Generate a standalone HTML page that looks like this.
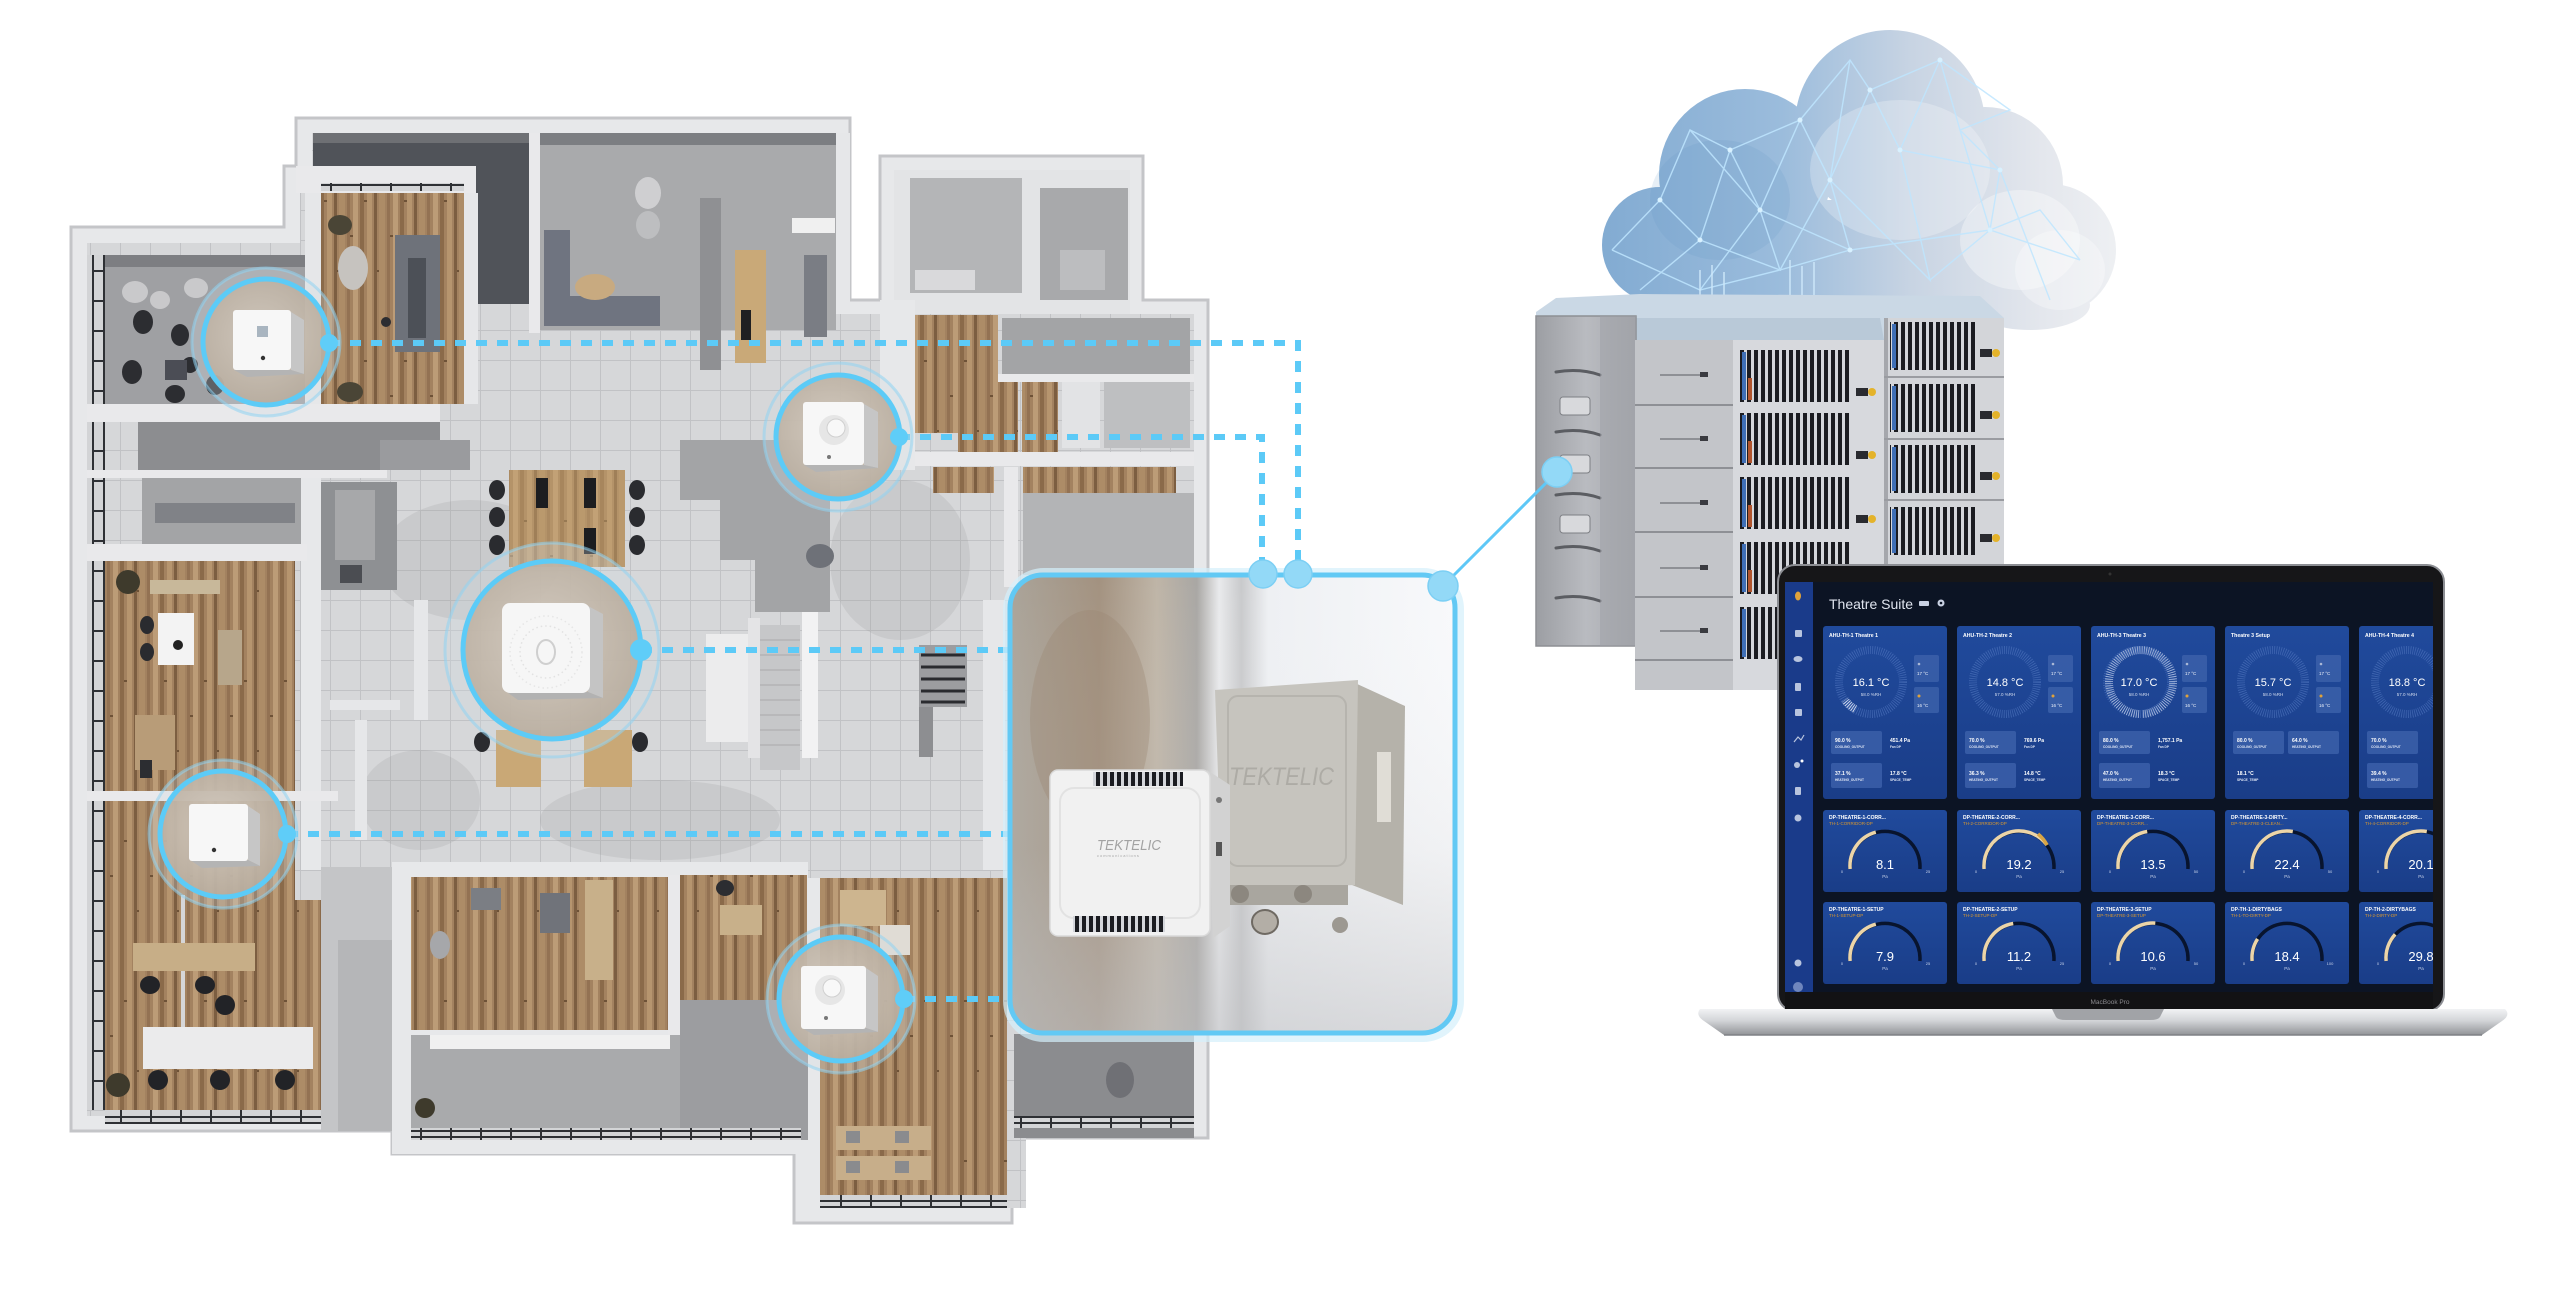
<!DOCTYPE html>
<html><head><meta charset="utf-8">
<style>
html,body{margin:0;padding:0;background:#fff;}
svg{display:block;}
text{font-family:"Liberation Sans",Arial,sans-serif;}
</style></head>
<body>
<svg width="2560" height="1302" viewBox="0 0 2560 1302" xmlns="http://www.w3.org/2000/svg">
<defs>
 <pattern id="wood" width="40" height="160" patternUnits="userSpaceOnUse">
  <rect width="40" height="160" fill="#a38260"/>
  <rect x="0" width="4" height="160" fill="#8a6a4a"/>
  <rect x="7" width="5" height="160" fill="#b6956f"/>
  <rect x="14" width="3" height="160" fill="#7c5e41"/>
  <rect x="19" width="6" height="160" fill="#ad8c67"/>
  <rect x="27" width="3" height="160" fill="#937253"/>
  <rect x="33" width="5" height="160" fill="#bc9c77"/>
  <rect x="4" y="40" width="3" height="2" fill="#6e5237"/>
  <rect x="17" y="110" width="2" height="2" fill="#6e5237"/>
  <rect x="30" y="75" width="3" height="2" fill="#6e5237"/>
 </pattern>
 <pattern id="tile" width="30" height="30" patternUnits="userSpaceOnUse">
  <rect width="30" height="30" fill="#d6d7d9"/>
  <path d="M0 0.5H30M0.5 0V30" stroke="#c1c2c5" stroke-width="1"/>
 </pattern>
 <pattern id="win" width="18" height="30" patternUnits="userSpaceOnUse">
  <rect width="18" height="30" fill="#d3d4d6"/>
  <rect x="2" width="2" height="30" fill="#2e3034"/>
  <rect x="13" width="2" height="30" fill="#2e3034"/>
  <rect x="2" y="0" width="13" height="2" fill="#2e3034"/>
 </pattern>
 <pattern id="winh" width="30" height="14" patternUnits="userSpaceOnUse">
  <rect width="30" height="14" fill="#d3d4d6"/>
  <rect y="2" width="30" height="2" fill="#2e3034"/>
  <rect y="10" width="30" height="2" fill="#2e3034"/>
  <rect x="0" width="2" height="14" fill="#2e3034"/>
 </pattern>
 <pattern id="rack" width="7" height="60" patternUnits="userSpaceOnUse">
  <rect width="7" height="60" fill="#1b1c21"/>
  <rect x="1" width="3" height="60" fill="#d4d6db"/>
 </pattern>
 <radialGradient id="sfill" cx="0.45" cy="0.45" r="0.6">
  <stop offset="0" stop-color="#d2c8bc"/>
  <stop offset="1" stop-color="#b7ab9c"/>
 </radialGradient>
 <linearGradient id="gwbg" x1="1010" y1="0" x2="1455" y2="0" gradientUnits="userSpaceOnUse">
  <stop offset="0" stop-color="#aaa49a"/>
  <stop offset="0.2" stop-color="#a39280"/>
  <stop offset="0.33" stop-color="#bfb5a7"/>
  <stop offset="0.42" stop-color="#a9a7a4"/>
  <stop offset="0.47" stop-color="#e9eaec"/>
  <stop offset="0.52" stop-color="#c9cacc"/>
  <stop offset="0.58" stop-color="#eef0f3"/>
  <stop offset="1" stop-color="#f8f9fb"/>
 </linearGradient>
 <linearGradient id="gwv" x1="0" y1="575" x2="0" y2="1033" gradientUnits="userSpaceOnUse">
  <stop offset="0" stop-color="#ffffff" stop-opacity="0"/>
  <stop offset="0.6" stop-color="#c8c8ca" stop-opacity="0.15"/>
  <stop offset="1" stop-color="#bfc0c3" stop-opacity="0.55"/>
 </linearGradient>
 <linearGradient id="cloudg" x1="1600" y1="0" x2="2120" y2="0" gradientUnits="userSpaceOnUse">
  <stop offset="0" stop-color="#82abd2"/>
  <stop offset="0.35" stop-color="#9bbcdc"/>
  <stop offset="0.6" stop-color="#c8d4e3"/>
  <stop offset="0.85" stop-color="#e4e7ed"/>
  <stop offset="1" stop-color="#eef0f3"/>
 </linearGradient>
 <linearGradient id="towerg" x1="1536" y1="0" x2="1636" y2="0" gradientUnits="userSpaceOnUse">
  <stop offset="0" stop-color="#9c9ea3"/>
  <stop offset="0.5" stop-color="#b9bbc0"/>
  <stop offset="1" stop-color="#a6a8ad"/>
 </linearGradient>
 <linearGradient id="baseg" x1="0" y1="1008" x2="0" y2="1036" gradientUnits="userSpaceOnUse">
  <stop offset="0" stop-color="#f4f5f7"/>
  <stop offset="0.45" stop-color="#d3d5d8"/>
  <stop offset="1" stop-color="#8d8f93"/>
 </linearGradient>
 <linearGradient id="cardg" x1="0" y1="0" x2="0" y2="1">
  <stop offset="0" stop-color="#204a9c"/>
  <stop offset="1" stop-color="#1a3d88"/>
 </linearGradient>
 <clipPath id="scr"><rect x="1785" y="582" width="648" height="410"/></clipPath>
</defs>

<rect width="2560" height="1302" fill="#ffffff"/>

<!-- ================= FLOOR PLAN ================= -->
<g id="floor">
 <polygon points="71,227 284,227 284,166 296,166 296,118 850,118 850,300 880,300 880,156 1143,156 1143,300 1208,300 1208,1138 1012,1138 1012,1223 794,1223 794,1154 392,1154 392,1131 71,1131" fill="#e7e8ea" stroke="#c4c5c8" stroke-width="3"/>
 <polygon points="87,243 300,243 300,182 312,182 312,133 836,133 836,314 894,314 894,170 1130,170 1130,314 1194,314 1194,1124 1026,1124 1026,1208 808,1208 808,1140 406,1140 406,1116 87,1116" fill="url(#tile)"/>
 <g fill="#8e8f92" opacity="0.18">
  <ellipse cx="470" cy="560" rx="90" ry="60"/>
  <ellipse cx="660" cy="820" rx="120" ry="40"/>
  <ellipse cx="900" cy="560" rx="70" ry="80"/>
  <ellipse cx="420" cy="800" rx="60" ry="50"/>
 </g>

 <!-- left windows -->
 <rect x="87" y="255" width="18" height="855" fill="url(#win)"/>

 <!-- top-left office -->
 <rect x="105" y="255" width="200" height="149" fill="#9fa0a3"/>
 <rect x="105" y="255" width="200" height="12" fill="#7d7e82"/>
 <g fill="#c9c9cb"><ellipse cx="135" cy="292" rx="13" ry="11"/><ellipse cx="196" cy="288" rx="12" ry="10"/><ellipse cx="160" cy="300" rx="10" ry="9"/></g>
 <g fill="#2c2d31">
  <ellipse cx="143" cy="322" rx="10" ry="12"/><ellipse cx="180" cy="335" rx="9" ry="11"/>
  <ellipse cx="132" cy="372" rx="10" ry="12"/><ellipse cx="175" cy="394" rx="10" ry="9"/>
  <ellipse cx="215" cy="385" rx="9" ry="10"/><ellipse cx="190" cy="365" rx="8" ry="8"/>
 </g>
 <rect x="165" y="360" width="22" height="20" fill="#4b4d55"/>

 <!-- dark top area and upper wood room -->
 <rect x="313" y="133" width="216" height="171" fill="#505359"/>
 <rect x="313" y="133" width="216" height="10" fill="#6e7074"/>
 <rect x="296" y="166" width="180" height="27" fill="#e9e9eb"/>
 <rect x="321" y="183" width="143" height="8" fill="url(#winh)"/>
 <rect x="321" y="193" width="143" height="211" fill="url(#wood)"/>
 <rect x="305" y="193" width="16" height="211" fill="#e6e7e9"/>
 <rect x="464" y="193" width="14" height="211" fill="#e6e7e9"/>
 <rect x="395" y="235" width="45" height="117" fill="#6e727a"/>
 <rect x="408" y="258" width="18" height="80" fill="#4c5057"/>
 <ellipse cx="353" cy="268" rx="15" ry="22" fill="#c6c3bf"/>
 <ellipse cx="340" cy="225" rx="12" ry="10" fill="#4a4536"/>
 <ellipse cx="350" cy="392" rx="13" ry="10" fill="#4a4536"/>
 <circle cx="386" cy="322" r="5" fill="#2c2d31"/>

 <!-- top middle room -->
 <rect x="529" y="133" width="11" height="200" fill="#e9e9eb"/>
 <rect x="540" y="133" width="296" height="197" fill="#a9aaac"/>
 <rect x="540" y="133" width="296" height="12" fill="#7c7e82"/>
 <rect x="544" y="230" width="26" height="96" fill="#6f7480"/>
 <rect x="544" y="296" width="116" height="30" fill="#6f7480"/>
 <ellipse cx="595" cy="287" rx="20" ry="13" fill="#c8aa80"/>
 <ellipse cx="648" cy="193" rx="13" ry="16" fill="#cfcfd1"/>
 <ellipse cx="648" cy="225" rx="12" ry="14" fill="#bdbec0"/>
 <rect x="700" y="198" width="21" height="172" fill="#8f9093"/>
 <rect x="735" y="250" width="31" height="113" fill="#c9a978"/>
 <rect x="741" y="310" width="10" height="30" fill="#1e1f22"/>
 <rect x="792" y="218" width="43" height="15" fill="#f0f0f0"/>
 <rect x="804" y="255" width="23" height="82" fill="#7a7d84"/>
 <rect x="836" y="133" width="14" height="180" fill="#e6e7e9"/>

 <!-- right top block -->
 <rect x="894" y="170" width="236" height="144" fill="#e3e4e6"/>
 <rect x="910" y="178" width="112" height="115" fill="#b4b5b7"/>
 <rect x="915" y="270" width="60" height="20" fill="#d9d9db"/>
 <rect x="1040" y="188" width="88" height="112" fill="#a8a9ab"/>
 <rect x="1060" y="250" width="45" height="40" fill="#bcbdbf"/>

 <!-- right middle rooms -->
 <rect x="880" y="300" width="35" height="170" fill="#e7e8ea"/>
 <rect x="915" y="315" width="83" height="118" fill="url(#wood)"/>
 <rect x="1002" y="318" width="188" height="56" fill="#a3a4a6"/>
 <rect x="998" y="374" width="196" height="8" fill="#e9e9eb"/>
 <rect x="958" y="382" width="60" height="70" fill="url(#wood)"/>
 <rect x="1022" y="382" width="36" height="70" fill="url(#wood)"/>
 <rect x="1062" y="382" width="38" height="66" fill="#e2e3e5"/>
 <rect x="1104" y="382" width="86" height="66" fill="#bebfc1"/>
 <rect x="915" y="452" width="279" height="14" fill="#e9e9eb"/>
 <rect x="933" y="467" width="61" height="26" fill="url(#wood)"/>
 <rect x="1023" y="467" width="153" height="26" fill="url(#wood)"/>
 <rect x="1023" y="493" width="171" height="82" fill="#b3b4b6"/>
 <rect x="1004" y="467" width="14" height="120" fill="#e9e9eb"/>

 <!-- left corridor etc -->
 <rect x="87" y="404" width="353" height="18" fill="#e9e9eb"/>
 <rect x="138" y="422" width="302" height="48" fill="#8c8d90"/>
 <rect x="87" y="470" width="300" height="8" fill="#e9e9eb"/>
 <rect x="142" y="478" width="159" height="66" fill="#a3a4a6"/>
 <rect x="155" y="503" width="140" height="20" fill="#808287"/>
 <rect x="301" y="478" width="20" height="392" fill="#e7e8ea"/>
 <rect x="321" y="482" width="76" height="108" fill="#8e9093"/>
 <rect x="335" y="490" width="40" height="70" fill="#a7a8aa"/>
 <rect x="340" y="565" width="22" height="18" fill="#4b4d52"/>
 <rect x="87" y="544" width="220" height="17" fill="#e9e9eb"/>

 <!-- left wood room 1 -->
 <rect x="105" y="561" width="190" height="230" fill="url(#wood)"/>
 <rect x="158" y="613" width="36" height="52" fill="#f3f3f3"/>
 <circle cx="178" cy="645" r="5" fill="#222"/>
 <g fill="#2a2b2f"><ellipse cx="147" cy="625" rx="7" ry="9"/><ellipse cx="147" cy="652" rx="7" ry="9"/></g>
 <rect x="150" y="580" width="70" height="14" fill="#c8b89a"/>
 <rect x="218" y="630" width="24" height="55" fill="#b7a68b"/>
 <circle cx="128" cy="582" r="12" fill="#3e3a2c"/>
 <rect x="135" y="715" width="40" height="55" fill="#b89c78"/>
 <rect x="140" y="760" width="12" height="18" fill="#2c2d31"/>
 <rect x="87" y="791" width="251" height="10" fill="#e9e9eb"/>

 <!-- left wood room 2 -->
 <polygon points="105,801 295,801 295,900 338,900 338,1110 105,1110" fill="url(#wood)"/>
 <rect x="181" y="895" width="4" height="150" fill="#d6d6d8"/>
 <rect x="133" y="943" width="122" height="28" fill="#c7ae87"/>
 <rect x="143" y="1027" width="170" height="42" fill="#ebebec"/>
 <g fill="#222327">
  <ellipse cx="150" cy="985" rx="10" ry="9"/><ellipse cx="205" cy="985" rx="10" ry="9"/>
  <ellipse cx="225" cy="1005" rx="10" ry="10"/>
  <ellipse cx="158" cy="1080" rx="10" ry="10"/><ellipse cx="220" cy="1080" rx="10" ry="10"/><ellipse cx="285" cy="1080" rx="10" ry="10"/>
 </g>
 <circle cx="118" cy="1085" r="12" fill="#3e3a2c"/>
 <rect x="105" y="1110" width="233" height="14" fill="url(#winh)"/>

 <!-- corridor between -->
 <rect x="321" y="867" width="71" height="264" fill="#c4c5c7"/>
 <rect x="338" y="940" width="54" height="191" fill="#b5b6b8"/>

 <!-- center dark stair region -->
 <polygon points="680,440 830,440 830,612 755,612 755,560 720,560 720,500 680,500" fill="#a3a4a6"/>
 <polygon points="380,440 470,440 470,470 380,470" fill="#9a9b9e"/>
 <rect x="706" y="634" width="42" height="108" fill="#ececed"/>
 <rect x="748" y="618" width="12" height="140" fill="#e4e4e6"/>
 <rect x="760" y="625" width="40" height="145" fill="#c6c7c9"/>
 <g stroke="#b3b4b6" stroke-width="1.5"><path d="M760 640H800M760 655H800M760 670H800M760 685H800M760 700H800M760 715H800M760 730H800M760 745H800"/></g>
 <rect x="802" y="612" width="16" height="146" fill="#f2f2f3"/>
 <rect x="919" y="645" width="48" height="62" fill="#9c9da0"/>
 <g stroke="#2a2b2f" stroke-width="3"><path d="M921 655H965M921 667H965M921 679H965M921 691H965M921 702H965"/></g>
 <rect x="919" y="707" width="14" height="50" fill="#8d8e91"/>
 <rect x="983" y="600" width="22" height="270" fill="#e6e7e9"/>
 <rect x="414" y="600" width="14" height="120" fill="#e6e7e9"/>
 <rect x="330" y="700" width="70" height="10" fill="#e6e7e9"/>
 <rect x="355" y="720" width="12" height="120" fill="#e6e7e9"/>

 <!-- center tables -->
 <rect x="509" y="470" width="116" height="97" fill="url(#wood)"/>
 <rect x="509" y="470" width="116" height="97" fill="#c9a876" opacity="0.45"/>
 <rect x="536" y="478" width="12" height="30" fill="#1c1d20"/>
 <rect x="584" y="478" width="12" height="30" fill="#1c1d20"/>
 <rect x="584" y="528" width="12" height="26" fill="#1c1d20"/>
 <g fill="#2a2b2f">
  <ellipse cx="497" cy="490" rx="8" ry="10"/><ellipse cx="497" cy="517" rx="8" ry="10"/><ellipse cx="497" cy="545" rx="8" ry="10"/>
  <ellipse cx="637" cy="490" rx="8" ry="10"/><ellipse cx="637" cy="517" rx="8" ry="10"/><ellipse cx="637" cy="545" rx="8" ry="10"/>
  <ellipse cx="482" cy="742" rx="8" ry="10"/><ellipse cx="640" cy="742" rx="8" ry="10"/>
 </g>
 <rect x="496" y="730" width="45" height="57" fill="#c9a876"/>
 <rect x="584" y="730" width="48" height="57" fill="#c9a876"/>
 <ellipse cx="820" cy="556" rx="14" ry="12" fill="#6e7178"/>

 <!-- bottom middle block -->
 <rect x="392" y="862" width="416" height="292" fill="#e7e8ea"/>
 <rect x="411" y="877" width="257" height="153" fill="url(#wood)"/>
 <rect x="668" y="875" width="12" height="160" fill="#e9e9eb"/>
 <rect x="680" y="875" width="127" height="125" fill="url(#wood)"/>
 <rect x="585" y="880" width="28" height="100" fill="#c8b08a"/>
 <rect x="540" y="893" width="30" height="40" fill="#70737a"/>
 <rect x="471" y="888" width="30" height="22" fill="#7b7e84"/>
 <ellipse cx="440" cy="945" rx="10" ry="14" fill="#a6a7aa"/>
 <rect x="720" y="905" width="42" height="30" fill="#c8b08a"/>
 <ellipse cx="725" cy="888" rx="9" ry="8" fill="#2c2d31"/>
 <rect x="411" y="1035" width="390" height="93" fill="#a9aaac"/>
 <rect x="430" y="1035" width="240" height="14" fill="#f0f0f0"/>
 <rect x="680" y="1000" width="128" height="140" fill="#9c9da0"/>
 <rect x="411" y="1128" width="390" height="12" fill="url(#winh)"/>
 <circle cx="425" cy="1108" r="10" fill="#3e3a2c"/>

 <!-- bottom right room -->
 <rect x="808" y="878" width="12" height="330" fill="#e7e8ea"/>
 <rect x="820" y="878" width="187" height="317" fill="url(#wood)"/>
 <rect x="840" y="890" width="46" height="36" fill="#cdb58f"/>
 <rect x="880" y="925" width="30" height="30" fill="#e0dcd5"/>
 <rect x="836" y="1126" width="95" height="24" fill="#c7ae8a"/>
 <rect x="836" y="1156" width="95" height="24" fill="#c7ae8a"/>
 <g fill="#8a8b8e"><rect x="846" y="1131" width="14" height="12"/><rect x="895" y="1131" width="14" height="12"/><rect x="846" y="1161" width="14" height="12"/><rect x="895" y="1161" width="14" height="12"/></g>
 <rect x="820" y="1195" width="187" height="13" fill="url(#winh)"/>

 <!-- room under gateway -->
 <rect x="1014" y="1034" width="180" height="104" fill="#8b8c8f"/>
 <rect x="1014" y="1116" width="180" height="12" fill="url(#winh)"/>
 <ellipse cx="1120" cy="1080" rx="14" ry="18" fill="#6f7075"/>
</g>

<!-- ================= CONNECTORS ================= -->
<g fill="none" stroke="#5ccaf7" stroke-width="6" stroke-dasharray="11 10">
 <path d="M329 343H1298V560"/>
 <path d="M899 437H1262V560"/>
 <path d="M641 650H1010"/>
 <path d="M287 834H1010"/>
 <path d="M904 999H1010"/>
</g>

<!-- ================= SENSORS ================= -->
<g>
 <circle cx="266" cy="342" r="74" fill="#cfd9e2" fill-opacity="0.3" stroke="#8fd3f3" stroke-opacity="0.55" stroke-width="3"/>
 <circle cx="266" cy="342" r="63" fill="url(#sfill)" fill-opacity="0.92" stroke="#5ccbf7" stroke-width="5"/>
 <polygon points="291,312 304,320 304,374 291,370" fill="#c6c6c6"/>
 <polygon points="234,370 291,370 304,374 247,377" fill="#b4b4b4"/>
 <rect x="233" y="310" width="58" height="60" rx="3" fill="#f7f7f7"/>
 <rect x="257" y="326" width="11" height="11" fill="#a9b5c0"/>
 <circle cx="263" cy="358" r="2.2" fill="#333"/>
 <circle cx="329" cy="343" r="9" fill="#5fcdf8"/>
</g>
<g>
 <circle cx="838" cy="437" r="74" fill="#cfd9e2" fill-opacity="0.3" stroke="#8fd3f3" stroke-opacity="0.55" stroke-width="3"/>
 <circle cx="838" cy="437" r="62" fill="url(#sfill)" fill-opacity="0.92" stroke="#5ccbf7" stroke-width="5"/>
 <polygon points="864,404 878,412 878,468 864,465" fill="#c6c6c6"/>
 <polygon points="804,465 864,465 878,468 816,472" fill="#b4b4b4"/>
 <rect x="803" y="402" width="61" height="63" rx="3" fill="#f7f7f7"/>
 <circle cx="834" cy="430" r="15" fill="#e6e6e6"/>
 <circle cx="836" cy="428" r="9" fill="#f8f8f8" stroke="#d0d0d0"/>
 <circle cx="829" cy="457" r="2" fill="#777"/>
 <circle cx="899" cy="437" r="9" fill="#5fcdf8"/>
</g>
<g>
 <circle cx="552" cy="650" r="107" fill="#cfd9e2" fill-opacity="0.3" stroke="#8fd3f3" stroke-opacity="0.55" stroke-width="3"/>
 <circle cx="552" cy="650" r="89" fill="url(#sfill)" fill-opacity="0.92" stroke="#5ccbf7" stroke-width="5"/>
 <polygon points="588,606 603,614 603,698 588,692" fill="#c4c4c4"/>
 <polygon points="504,690 588,692 603,698 518,700" fill="#b2b2b2"/>
 <rect x="502" y="603" width="88" height="90" rx="8" fill="#f6f6f6"/>
 <ellipse cx="546" cy="652" rx="9" ry="12" fill="none" stroke="#cfcfcf" stroke-width="2"/>
 <circle cx="546" cy="652" r="26" fill="none" stroke="#e2e2e2" stroke-width="1.5" stroke-dasharray="1.5 3"/>
 <circle cx="546" cy="652" r="36" fill="none" stroke="#e6e6e6" stroke-width="1.5" stroke-dasharray="1.5 3"/>
 <circle cx="641" cy="650" r="11" fill="#5fcdf8"/>
</g>
<g>
 <circle cx="223" cy="834" r="74" fill="#cfd9e2" fill-opacity="0.3" stroke="#8fd3f3" stroke-opacity="0.55" stroke-width="3"/>
 <circle cx="223" cy="834" r="63" fill="url(#sfill)" fill-opacity="0.92" stroke="#5ccbf7" stroke-width="5"/>
 <polygon points="248,806 260,814 260,866 248,860" fill="#c6c6c6"/>
 <polygon points="190,860 248,860 260,866 202,868" fill="#b4b4b4"/>
 <rect x="189" y="804" width="59" height="57" rx="3" fill="#f7f7f7"/>
 <circle cx="214" cy="850" r="2.2" fill="#333"/>
 <circle cx="287" cy="834" r="9" fill="#5fcdf8"/>
</g>
<g>
 <circle cx="841" cy="999" r="74" fill="#cfd9e2" fill-opacity="0.3" stroke="#8fd3f3" stroke-opacity="0.55" stroke-width="3"/>
 <circle cx="841" cy="999" r="62" fill="url(#sfill)" fill-opacity="0.92" stroke="#5ccbf7" stroke-width="5"/>
 <polygon points="866,968 878,976 878,1032 866,1028" fill="#c6c6c6"/>
 <polygon points="802,1028 866,1028 878,1032 814,1035" fill="#b4b4b4"/>
 <rect x="801" y="966" width="65" height="63" rx="3" fill="#f7f7f7"/>
 <circle cx="830" cy="990" r="15" fill="#e6e6e6"/>
 <circle cx="832" cy="988" r="9" fill="#f8f8f8" stroke="#d0d0d0"/>
 <circle cx="826" cy="1018" r="2" fill="#777"/>
 <circle cx="904" cy="999" r="9" fill="#5fcdf8"/>
</g>

<!-- ================= GATEWAY BOX ================= -->
<g>
 <rect x="1008" y="573" width="451" height="464" rx="36" fill="none" stroke="#d4effb" stroke-width="10" opacity="0.7"/>
 <rect x="1010" y="575" width="445" height="458" rx="33" fill="url(#gwbg)"/>
 <rect x="1010" y="575" width="445" height="458" rx="33" fill="url(#gwv)"/>
 <ellipse cx="1090" cy="720" rx="60" ry="110" fill="#9a8774" opacity="0.35"/>
 <rect x="1010" y="575" width="445" height="458" rx="33" fill="none" stroke="#62c9f4" stroke-width="5"/>

 <polygon points="1355,683 1405,706 1403,905 1352,885" fill="#b5b2aa"/>
 <polygon points="1215,690 1358,680 1355,885 1222,890" fill="#c6c4be"/>
 <rect x="1228" y="696" width="118" height="170" rx="10" fill="none" stroke="#b6b4ae" stroke-width="2"/>
 <rect x="1377" y="752" width="14" height="70" fill="#e0ddd6"/>
 <text x="1229" y="785" font-size="25" fill="#adaba5" font-style="italic" textLength="105" lengthAdjust="spacingAndGlyphs">TEKTELIC</text>
 <rect x="1228" y="885" width="120" height="20" fill="#a9a69f"/>
 <circle cx="1240" cy="894" r="9" fill="#8c877f"/>
 <circle cx="1303" cy="894" r="9" fill="#8c877f"/>
 <ellipse cx="1265" cy="922" rx="13" ry="12" fill="#b3aea6" stroke="#6f6a63" stroke-width="2"/>
 <circle cx="1340" cy="925" r="8" fill="#9c9891"/>

 <polygon points="1207,770 1230,785 1230,926 1213,938" fill="#d2d2d2"/>
 <rect x="1050" y="770" width="160" height="166" rx="8" fill="#f1f1f1" stroke="#d9d9d9" stroke-width="1.5"/>
 <rect x="1060" y="788" width="140" height="130" rx="14" fill="none" stroke="#e2e2e2" stroke-width="2"/>
 <rect x="1093" y="772" width="90" height="14" fill="url(#rack)"/>
 <rect x="1073" y="916" width="92" height="16" fill="url(#rack)"/>
 <text x="1097" y="850" font-size="15" fill="#a2a2a2" font-style="italic" textLength="64" lengthAdjust="spacingAndGlyphs">TEKTELIC</text>
 <text x="1097" y="857" font-size="4" fill="#a8a8a8" letter-spacing="1">communications</text>
 <rect x="1216" y="842" width="6" height="14" fill="#555"/>
 <circle cx="1219" cy="800" r="3" fill="#777"/>

 <circle cx="1263" cy="574" r="14" fill="#93d9f7" stroke="#7ccff4" stroke-width="1.5"/>
 <circle cx="1298" cy="574" r="14" fill="#93d9f7" stroke="#7ccff4" stroke-width="1.5"/>
</g>

<!-- ================= CLOUD ================= -->
<g>
 <g fill="url(#cloudg)">
  <circle cx="1660" cy="245" r="58"/>
  <circle cx="1745" cy="175" r="86"/>
  <circle cx="1890" cy="125" r="95"/>
  <circle cx="1985" cy="185" r="78"/>
  <circle cx="2050" cy="250" r="66"/>
  <rect x="1630" y="200" width="440" height="110"/>
  <ellipse cx="2030" cy="305" rx="60" ry="25"/>
 </g>
 <ellipse cx="1900" cy="170" rx="90" ry="70" fill="#ffffff" opacity="0.25"/>
 <ellipse cx="2020" cy="240" rx="60" ry="50" fill="#ffffff" opacity="0.35"/>
 <ellipse cx="2060" cy="270" rx="45" ry="40" fill="#ffffff" opacity="0.3"/>
 <ellipse cx="1720" cy="200" rx="70" ry="60" fill="#5f92c4" opacity="0.15"/>
 <g fill="none" stroke="#bfe6ff" stroke-width="1.4" opacity="0.85">
  <polyline points="1612,250 1660,200 1700,240 1730,150 1760,210 1800,120 1830,180 1870,90 1900,150 1940,60 1960,130 2000,170 1990,230 2040,210 2080,260"/>
  <polyline points="1640,290 1700,240 1780,270 1760,210 1850,250 1830,180 1930,280 1900,150 2000,170 2050,300"/>
  <polyline points="1660,200 1690,130 1730,150 1800,120 1850,60 1870,90 1940,60 2010,110 1960,130 1990,230 1930,280"/>
  <polyline points="1612,250 1700,290 1780,270 1850,250 1990,230 2080,260"/>
  <polyline points="1690,130 1760,210 1700,290"/>
  <polyline points="1850,60 1830,180 1780,270"/>
 </g>
 <g fill="#d8f1ff">
  <circle cx="1660" cy="200" r="2.5"/><circle cx="1730" cy="150" r="2.5"/><circle cx="1800" cy="120" r="2.5"/>
  <circle cx="1870" cy="90" r="2.5"/><circle cx="1940" cy="60" r="2.5"/><circle cx="1760" cy="210" r="2.5"/>
  <circle cx="1830" cy="180" r="2.5"/><circle cx="1900" cy="150" r="2.5"/><circle cx="2000" cy="170" r="2.5"/>
  <circle cx="1700" cy="240" r="2.5"/><circle cx="1850" cy="250" r="2.5"/><circle cx="1990" cy="230" r="2.5"/>
 </g>
 <g stroke="#cfe9fb" stroke-width="2" opacity="0.7"><path d="M1700 270V300M1712 265V300M1724 272V300M1790 260V300M1802 266V300M1814 262V300"/></g>
</g>

<!-- ================= SERVERS ================= -->
<g>
 <polygon points="1536,312 1556,298 1640,294 1980,296 2004,318 2004,340 1635,342 1536,322" fill="#cad8e5"/>
 <polygon points="1635,318 1880,318 1884,340 1635,342" fill="#b9c9d8"/>
 <rect x="1536" y="316" width="100" height="330" fill="url(#towerg)"/>
 <rect x="1536" y="316" width="100" height="330" fill="none" stroke="#8d8f94" stroke-width="1.5"/>
 <g fill="none" stroke="#5b5d62" stroke-width="3" stroke-linecap="round">
  <path d="M1556 372Q1580 368 1600 375"/><path d="M1556 432Q1580 428 1600 435"/>
  <path d="M1556 495Q1580 491 1600 498"/><path d="M1556 548Q1580 544 1600 551"/>
  <path d="M1556 598Q1580 594 1600 601"/>
 </g>
 <g fill="#d8d9dc" stroke="#7d7f84" stroke-width="1"><rect x="1560" y="397" width="30" height="18" rx="3"/><rect x="1560" y="455" width="30" height="18" rx="3"/><rect x="1560" y="515" width="30" height="18" rx="3"/></g>
 <rect x="1600" y="316" width="36" height="330" fill="#9ea0a5" opacity="0.5"/>
 <rect x="1635" y="340" width="100" height="350" fill="#c3c5c9"/>
 <g stroke="#8e9095" stroke-width="2"><path d="M1635 405H1735M1635 468H1735M1635 532H1735M1635 597H1735M1635 660H1735"/></g>
 <g fill="#3a3b40"><rect x="1700" y="372" width="8" height="5"/><rect x="1700" y="436" width="8" height="5"/><rect x="1700" y="500" width="8" height="5"/><rect x="1700" y="565" width="8" height="5"/><rect x="1700" y="628" width="8" height="5"/></g>
 <g stroke="#7d7f84" stroke-width="1.5"><path d="M1660 375H1700M1660 439H1700M1660 503H1700M1660 568H1700M1660 631H1700"/></g>
 <rect x="1733" y="340" width="152" height="350" fill="#d7d9dd"/>
 <g>
  <rect x="1740" y="350" width="110" height="52" fill="url(#rack)"/>
  <rect x="1740" y="413" width="110" height="52" fill="url(#rack)"/>
  <rect x="1740" y="477" width="110" height="52" fill="url(#rack)"/>
  <rect x="1740" y="542" width="110" height="52" fill="url(#rack)"/>
  <rect x="1740" y="607" width="110" height="52" fill="url(#rack)"/>
 </g>
 <g fill="#3f6fb6"><rect x="1742" y="352" width="4" height="48"/><rect x="1742" y="415" width="4" height="48"/><rect x="1742" y="479" width="4" height="48"/><rect x="1742" y="544" width="4" height="48"/><rect x="1742" y="609" width="4" height="48"/></g>
 <g fill="#b0552e"><rect x="1748" y="378" width="4" height="22"/><rect x="1748" y="441" width="4" height="22"/><rect x="1748" y="505" width="4" height="22"/><rect x="1748" y="570" width="4" height="22"/></g>
 <g fill="#e4b32a"><circle cx="1872" cy="392" r="4"/><circle cx="1872" cy="455" r="4"/><circle cx="1872" cy="519" r="4"/><circle cx="1872" cy="584" r="4"/></g>
 <g fill="#2a2b30"><rect x="1856" y="388" width="12" height="8"/><rect x="1856" y="451" width="12" height="8"/><rect x="1856" y="515" width="12" height="8"/><rect x="1856" y="580" width="12" height="8"/></g>
 <rect x="1884" y="318" width="120" height="250" fill="#d3d5d9"/>
 <rect x="1884" y="318" width="4" height="250" fill="#a5a7ac"/>
 <g>
  <rect x="1890" y="322" width="86" height="48" fill="url(#rack)"/>
  <rect x="1890" y="384" width="86" height="48" fill="url(#rack)"/>
  <rect x="1890" y="445" width="86" height="48" fill="url(#rack)"/>
  <rect x="1890" y="507" width="86" height="48" fill="url(#rack)"/>
 </g>
 <g fill="#3f6fb6"><rect x="1892" y="324" width="4" height="44"/><rect x="1892" y="386" width="4" height="44"/><rect x="1892" y="447" width="4" height="44"/><rect x="1892" y="509" width="4" height="44"/></g>
 <g fill="#e4b32a"><circle cx="1996" cy="353" r="4"/><circle cx="1996" cy="415" r="4"/><circle cx="1996" cy="476" r="4"/><circle cx="1996" cy="538" r="4"/></g>
 <g fill="#2a2b30"><rect x="1980" y="349" width="12" height="8"/><rect x="1980" y="411" width="12" height="8"/><rect x="1980" y="472" width="12" height="8"/><rect x="1980" y="534" width="12" height="8"/></g>
 <g stroke="#9a9ca1" stroke-width="2"><path d="M1884 377H2004M1884 439H2004M1884 500H2004"/></g>
</g>

<line x1="1443" y1="586" x2="1557" y2="472" stroke="#5ec8f7" stroke-width="3"/>
<circle cx="1443" cy="586" r="15" fill="#93d9f7" stroke="#7ccff4" stroke-width="1.5"/>
<circle cx="1557" cy="472" r="15" fill="#93d9f7" stroke="#7ccff4" stroke-width="1.5"/>

<!-- ================= LAPTOP ================= -->
<g>
 <rect x="1778" y="565" width="666" height="446" rx="17" fill="#161618" stroke="#8c8e93" stroke-width="2"/>
 <rect x="1785" y="582" width="648" height="410" fill="#0c1424"/>
 <circle cx="2110" cy="574" r="1.5" fill="#333"/>
 <g clip-path="url(#scr)">
  <rect x="1785" y="582" width="28" height="410" fill="#1a3b8a"/>
  <ellipse cx="1798" cy="596" rx="3" ry="4.5" fill="#e0a23a"/>
  <g fill="#b8c4de">
   <rect x="1795" y="630" width="7" height="7" rx="1"/>
   <ellipse cx="1798" cy="659" rx="4.5" ry="3"/>
   <rect x="1795" y="683" width="6" height="8" rx="1"/>
   <rect x="1795" y="709" width="7" height="7" rx="1"/>
   <path d="M1794 742L1798 737L1801 740L1804 735" stroke="#b8c4de" stroke-width="1.2" fill="none"/>
   <circle cx="1797" cy="765" r="3"/><circle cx="1802" cy="761" r="1.5" fill="#fff"/>
   <rect x="1795" y="787" width="6" height="8" rx="1"/>
   <circle cx="1798" cy="818" r="3.5"/>
   <circle cx="1798" cy="963" r="3.5"/>
   <circle cx="1798" cy="987" r="5" fill="#6f86bd"/>
  </g>
  <text x="1829" y="609" font-size="14" fill="#dfe4ee">Theatre Suite</text>
  <rect x="1919" y="601" width="10" height="5" rx="1" fill="#c9d1e2"/>
  <circle cx="1941" cy="603" r="3.5" fill="#c9d1e2"/>
  <circle cx="1941" cy="603" r="1.3" fill="#0c1424"/>

  <g>
   <rect x="1823" y="626" width="124" height="173" rx="3" fill="url(#cardg)"/>
   <rect x="1957" y="626" width="124" height="173" rx="3" fill="url(#cardg)"/>
   <rect x="2091" y="626" width="124" height="173" rx="3" fill="url(#cardg)"/>
   <rect x="2225" y="626" width="124" height="173" rx="3" fill="url(#cardg)"/>
   <rect x="2359" y="626" width="124" height="173" rx="3" fill="url(#cardg)"/>
  </g>
  <g font-size="5.2" font-weight="bold" fill="#ffffff">
   <text x="1829" y="637">AHU-TH-1 Theatre 1</text>
   <text x="1963" y="637">AHU-TH-2 Theatre 2</text>
   <text x="2097" y="637">AHU-TH-3 Theatre 3</text>
   <text x="2231" y="637">Theatre 3 Setup</text>
   <text x="2365" y="637">AHU-TH-4 Theatre 4</text>
  </g>
  <g fill="none" stroke="#4e74bd" stroke-width="8" stroke-dasharray="0.8 1.4" opacity="0.7">
   <circle cx="1871" cy="682" r="32"/><circle cx="2005" cy="682" r="32"/><circle cx="2139" cy="682" r="32"/><circle cx="2273" cy="682" r="32"/><circle cx="2407" cy="682" r="32"/>
  </g>
  <path d="M1855 709A32 32 0 0 1 1845 700" fill="none" stroke="#e3e9f6" stroke-width="8" stroke-dasharray="0.8 1.4"/>
  <path d="M2139 714A32 32 0 1 1 2143 714" fill="none" stroke="#c7d3ec" stroke-width="8" stroke-dasharray="0.8 1.4" opacity="0.8"/>
  <g fill="#ffffff" text-anchor="middle">
   <g font-size="11">
    <text x="1871" y="686">16.1 °C</text><text x="2005" y="686">14.8 °C</text><text x="2139" y="686">17.0 °C</text><text x="2273" y="686">15.7 °C</text><text x="2407" y="686">18.8 °C</text>
   </g>
   <g font-size="4.5" fill="#d5ddef">
    <text x="1871" y="696">58.0 %RH</text><text x="2005" y="696">57.0 %RH</text><text x="2139" y="696">58.0 %RH</text><text x="2273" y="696">58.0 %RH</text><text x="2407" y="696">57.0 %RH</text>
   </g>
  </g>
  <g fill="#3d62ab" opacity="0.8">
   <rect x="1914" y="655" width="25" height="27" rx="2"/><rect x="1914" y="687" width="25" height="26" rx="2"/>
   <rect x="2048" y="655" width="25" height="27" rx="2"/><rect x="2048" y="687" width="25" height="26" rx="2"/>
   <rect x="2182" y="655" width="25" height="27" rx="2"/><rect x="2182" y="687" width="25" height="26" rx="2"/>
   <rect x="2316" y="655" width="25" height="27" rx="2"/><rect x="2316" y="687" width="25" height="26" rx="2"/>
   <rect x="2450" y="655" width="25" height="27" rx="2"/><rect x="2450" y="687" width="25" height="26" rx="2"/>
  </g>
  <g font-size="4.5" fill="#eef2fa">
   <text x="1917" y="675">17 °C</text><text x="1917" y="707">16 °C</text>
   <text x="2051" y="675">17 °C</text><text x="2051" y="707">16 °C</text>
   <text x="2185" y="675">17 °C</text><text x="2185" y="707">16 °C</text>
   <text x="2319" y="675">17 °C</text><text x="2319" y="707">16 °C</text>
  </g>
  <g fill="#e0a23a"><circle cx="1919" cy="696" r="1.5"/><circle cx="2053" cy="696" r="1.5"/><circle cx="2187" cy="696" r="1.5"/><circle cx="2321" cy="696" r="1.5"/></g>
  <g fill="#aab8d6"><circle cx="1919" cy="664" r="1.3"/><circle cx="2053" cy="664" r="1.3"/><circle cx="2187" cy="664" r="1.3"/><circle cx="2321" cy="664" r="1.3"/></g>
  <g fill="#3d62ab" opacity="0.8">
   <rect x="1831" y="731" width="51" height="23" rx="2"/><rect x="1831" y="763" width="51" height="25" rx="2"/>
   <rect x="1965" y="731" width="51" height="23" rx="2"/><rect x="1965" y="763" width="51" height="25" rx="2"/>
   <rect x="2099" y="731" width="51" height="23" rx="2"/><rect x="2099" y="763" width="51" height="25" rx="2"/>
   <rect x="2233" y="731" width="51" height="23" rx="2"/><rect x="2288" y="731" width="51" height="23" rx="2"/>
   <rect x="2367" y="731" width="51" height="23" rx="2"/><rect x="2367" y="763" width="51" height="25" rx="2"/>
  </g>
  <g font-size="5" font-weight="bold" fill="#ffffff">
   <text x="1835" y="742">90.0 %</text><text x="1890" y="742">451.4 Pa</text><text x="1835" y="775">37.1 %</text><text x="1890" y="775">17.8 °C</text>
   <text x="1969" y="742">70.0 %</text><text x="2024" y="742">769.6 Pa</text><text x="1969" y="775">36.3 %</text><text x="2024" y="775">14.8 °C</text>
   <text x="2103" y="742">80.0 %</text><text x="2158" y="742">1,757.1 Pa</text><text x="2103" y="775">47.0 %</text><text x="2158" y="775">18.3 °C</text>
   <text x="2237" y="742">80.0 %</text><text x="2292" y="742">64.0 %</text><text x="2237" y="775">18.1 °C</text>
   <text x="2371" y="742">70.0 %</text><text x="2371" y="775">39.4 %</text>
  </g>
  <g font-size="3.2" font-weight="bold" fill="#dfe6f5">
   <text x="1835" y="748">COOLING_OUTPUT</text><text x="1890" y="748">Fan DP</text><text x="1835" y="781">HEATING_OUTPUT</text><text x="1890" y="781">SPACE_TEMP</text>
   <text x="1969" y="748">COOLING_OUTPUT</text><text x="2024" y="748">Fan DP</text><text x="1969" y="781">HEATING_OUTPUT</text><text x="2024" y="781">SPACE_TEMP</text>
   <text x="2103" y="748">COOLING_OUTPUT</text><text x="2158" y="748">Fan DP</text><text x="2103" y="781">HEATING_OUTPUT</text><text x="2158" y="781">SPACE_TEMP</text>
   <text x="2237" y="748">COOLING_OUTPUT</text><text x="2292" y="748">HEATING_OUTPUT</text><text x="2237" y="781">SPACE_TEMP</text>
   <text x="2371" y="748">COOLING_OUTPUT</text><text x="2371" y="781">HEATING_OUTPUT</text>
  </g>

  <g>
   <rect x="1823" y="810" width="124" height="82" rx="3" fill="url(#cardg)"/>
   <rect x="1957" y="810" width="124" height="82" rx="3" fill="url(#cardg)"/>
   <rect x="2091" y="810" width="124" height="82" rx="3" fill="url(#cardg)"/>
   <rect x="2225" y="810" width="124" height="82" rx="3" fill="url(#cardg)"/>
   <rect x="2359" y="810" width="124" height="82" rx="3" fill="url(#cardg)"/>
   <rect x="1823" y="902" width="124" height="82" rx="3" fill="url(#cardg)"/>
   <rect x="1957" y="902" width="124" height="82" rx="3" fill="url(#cardg)"/>
   <rect x="2091" y="902" width="124" height="82" rx="3" fill="url(#cardg)"/>
   <rect x="2225" y="902" width="124" height="82" rx="3" fill="url(#cardg)"/>
   <rect x="2359" y="902" width="124" height="82" rx="3" fill="url(#cardg)"/>
  </g>
  <g font-size="5" font-weight="bold" fill="#ffffff">
   <text x="1829" y="819">DP-THEATRE-1-CORR...</text>
   <text x="1963" y="819">DP-THEATRE-2-CORR...</text>
   <text x="2097" y="819">DP-THEATRE-3-CORR...</text>
   <text x="2231" y="819">DP-THEATRE-3-DIRTY...</text>
   <text x="2365" y="819">DP-THEATRE-4-CORR...</text>
   <text x="1829" y="911">DP-THEATRE-1-SETUP</text>
   <text x="1963" y="911">DP-THEATRE-2-SETUP</text>
   <text x="2097" y="911">DP-THEATRE-3-SETUP</text>
   <text x="2231" y="911">DP-TH-1-DIRTYBAGS</text>
   <text x="2365" y="911">DP-TH-2-DIRTYBAGS</text>
  </g>
  <g font-size="4.5" fill="#d9982f">
   <text x="1829" y="825">TH-1-CORRIDOR-DP</text>
   <text x="1963" y="825">TH-2-CORRIDOR-DP</text>
   <text x="2097" y="825">DP-THEATRE-3-CORR...</text>
   <text x="2231" y="825">DP-THEATRE-3-CLEAN...</text>
   <text x="2365" y="825">TH-4-CORRIDOR-DP</text>
   <text x="1829" y="917">TH-1-SETUP-DP</text>
   <text x="1963" y="917">TH-2-SETUP-DP</text>
   <text x="2097" y="917">DP-THEATRE-3-SETUP</text>
   <text x="2231" y="917">TH-1-TO-DIRTY-DP</text>
   <text x="2365" y="917">TH-2-DIRTY-DP</text>
  </g>
  <g fill="none" stroke="#08142e" stroke-width="3.5">
   <path d="M1850.1 869A35 35 0 1 1 1919.9 869"/>
   <path d="M1984.1 869A35 35 0 1 1 2053.9 869"/>
   <path d="M2118.1 869A35 35 0 1 1 2187.9 869"/>
   <path d="M2252.1 869A35 35 0 1 1 2321.9 869"/>
   <path d="M2386.1 869A35 35 0 1 1 2455.9 869"/>
   <path d="M1850.1 961A35 35 0 1 1 1919.9 961"/>
   <path d="M1984.1 961A35 35 0 1 1 2053.9 961"/>
   <path d="M2118.1 961A35 35 0 1 1 2187.9 961"/>
   <path d="M2252.1 961A35 35 0 1 1 2321.9 961"/>
   <path d="M2386.1 961A35 35 0 1 1 2455.9 961"/>
  </g>
  <g fill="none" stroke="#ecd5a8" stroke-width="3.5">
   <path d="M1850.1 869A35 35 0 0 1 1875.8 832.2"/>
   <path d="M1984.1 869A35 35 0 0 1 2047 845"/>
   <path d="M2118.1 869A35 35 0 0 1 2147.2 831.5"/>
   <path d="M2252.1 869A35 35 0 0 1 2292.8 831.5"/>
   <path d="M2386.1 869A35 35 0 0 1 2426.8 831.5"/>
   <path d="M1850.1 961A35 35 0 0 1 1875.8 924.2"/>
   <path d="M1984.1 961A35 35 0 0 1 2013.2 923.5"/>
   <path d="M2118.1 961A35 35 0 0 1 2155.3 923.1"/>
   <path d="M2252.1 961A35 35 0 0 1 2257.6 938.9"/>
   <path d="M2386.1 961A35 35 0 0 1 2395.2 934.3"/>
  </g>
  <path d="M2038 834A35 35 0 0 1 2047 845" fill="none" stroke="#d9a545" stroke-width="3.5"/>
  <g fill="#ffffff" text-anchor="middle" font-size="13">
   <text x="1885" y="869">8.1</text><text x="2019" y="869">19.2</text><text x="2153" y="869">13.5</text><text x="2287" y="869">22.4</text><text x="2421" y="869">20.1</text>
   <text x="1885" y="961">7.9</text><text x="2019" y="961">11.2</text><text x="2153" y="961">10.6</text><text x="2287" y="961">18.4</text><text x="2421" y="961">29.8</text>
  </g>
  <g fill="#c9d3ea" text-anchor="middle" font-size="4.5">
   <text x="1885" y="878">Pa</text><text x="2019" y="878">Pa</text><text x="2153" y="878">Pa</text><text x="2287" y="878">Pa</text><text x="2421" y="878">Pa</text>
   <text x="1885" y="970">Pa</text><text x="2019" y="970">Pa</text><text x="2153" y="970">Pa</text><text x="2287" y="970">Pa</text><text x="2421" y="970">Pa</text>
  </g>
  <g fill="#c9d3ea" text-anchor="middle" font-size="4">
   <text x="1842" y="873">0</text><text x="1928" y="873">25</text>
   <text x="1976" y="873">0</text><text x="2062" y="873">25</text>
   <text x="2110" y="873">0</text><text x="2196" y="873">50</text>
   <text x="2244" y="873">0</text><text x="2330" y="873">50</text>
   <text x="2378" y="873">0</text>
   <text x="1842" y="965">0</text><text x="1928" y="965">25</text>
   <text x="1976" y="965">0</text><text x="2062" y="965">25</text>
   <text x="2110" y="965">0</text><text x="2196" y="965">50</text>
   <text x="2244" y="965">0</text><text x="2330" y="965">100</text>
   <text x="2378" y="965">0</text>
  </g>
 </g>
 <rect x="1785" y="992" width="648" height="17" fill="#121214"/>
 <text x="2110" y="1004" font-size="6.5" fill="#8a8a8e" text-anchor="middle">MacBook Pro</text>
 <path d="M1700 1009L2505 1009Q2511 1015 2502 1021L2482 1035L1724 1035L1704 1021Q1695 1015 1700 1009Z" fill="url(#baseg)"/>
 <path d="M2052 1009L2164 1009L2160 1017Q2158 1020 2150 1020L2066 1020Q2058 1020 2056 1017Z" fill="#a1a3a7"/>
 <path d="M1724 1035L2482 1035" stroke="#7f8185" stroke-width="1.5"/>
</g>
</svg>
</body></html>
